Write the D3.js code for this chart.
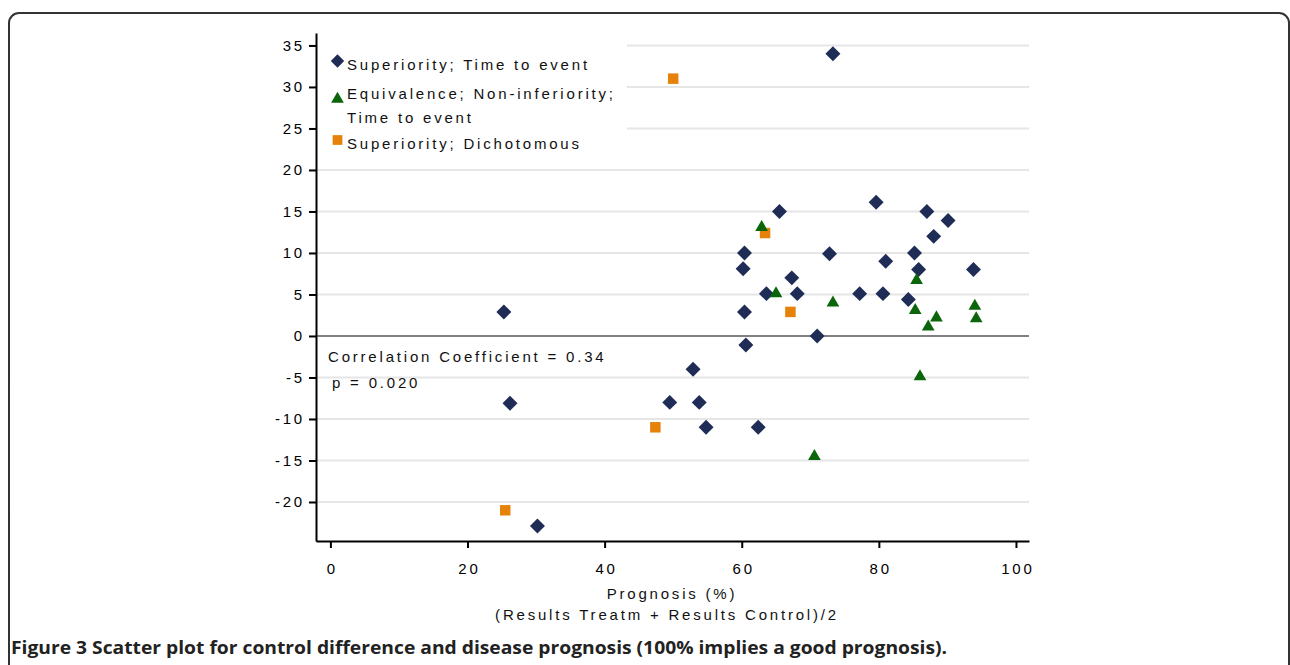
<!DOCTYPE html>
<html>
<head>
<meta charset="utf-8">
<script src="https://cdn.jsdelivr.net/npm/d3@7"></script>
<style>
  body { margin: 0; background: #fff; }
  svg text { font-family: "Liberation Sans", Arimo, Arial, sans-serif; }
</style>
</head>
<body>
<svg></svg>
<script>
//	data: [prognosis %, control difference]
var superiorityTime = [
    [25.3, 2.9], [26.2, -8.1], [30.2, -22.9], [49.5, -8], [52.9, -4], [53.8, -8],
    [54.8, -11], [60.4, 10], [60.2, 8.1], [60.4, 2.9], [60.6, -1.1], [62.4, -11],
    [63.6, 5.1], [65.5, 15], [67.3, 7], [68.1, 5.1], [71.0, 0], [72.8, 9.9],
    [73.3, 34], [77.2, 5.1], [79.6, 16.1], [80.6, 5.1], [81.0, 9.0], [84.3, 4.4],
    [85.2, 10], [85.8, 8], [87.0, 15], [88.0, 12], [90.1, 13.9], [93.8, 8]
];
var equivalenceTime = [
    [62.9, 13.1], [65.0, 5.1], [73.3, 4.0], [85.5, 6.7], [85.3, 3.1], [87.2, 1.1],
    [88.4, 2.2], [94.0, 3.6], [94.2, 2.1], [86.0, -4.9], [70.6, -14.5]
];
var superiorityDich = [
    [63.4, 12.4], [67.1, 2.9], [47.4, -11], [25.5, -21], [50.0, 31]
];
var xTicks = [0, 20, 40, 60, 80, 100];
var yTicks = [-20, -15, -10, -5, 0, 5, 10, 15, 20, 25, 30, 35];
var legendLabels = [
    ["Superiority; Time to event"],
    ["Equivalence; Non-inferiority;", "Time to event"],
    ["Superiority; Dichotomous"]
];
var statLines = ["Correlation Coefficient = 0.34", "p = 0.020"];
var xTitle = ["Prognosis (%)", "(Results Treatm + Results Control)/2"];
var caption = "Figure 3 Scatter plot for control difference and disease prognosis (100% implies a good prognosis).";

var width = 1290, height = 665;
var navy = "#1f2d56", green = "#0b650b", orange = "#e6820a";
var spacing = "2.8px";

var svg = d3.select("svg").attr("width", width).attr("height", height);

//	figure frame
svg.append("rect")
    .attr("x", 9).attr("y", 13)
    .attr("width", 1280).attr("height", 720)
    .attr("rx", 10)
    .attr("fill", "none").attr("stroke", "#333").attr("stroke-width", 2);

//	scales
var x = d3.scaleLinear().domain([-2.1, 101.9]).range([316, 1029]);
var y = d3.scaleLinear().domain([-24.7, 36.5]).range([541, 33]);

//	grid lines
svg.append("g").selectAll("line")
    .data(yTicks.filter(function(d) { return d !== 0; }))
    .enter().append("line")
    .attr("x1", x.range()[0]).attr("x2", x.range()[1])
    .attr("y1", function(d) { return y(d); })
    .attr("y2", function(d) { return y(d); })
    .attr("stroke", "#e6e6e6").attr("stroke-width", 2);

//	legend background hides grid
svg.append("rect")
    .attr("x", 317).attr("y", 38).attr("width", 310).attr("height", 118)
    .attr("fill", "#fff");

//	zero line
svg.append("line")
    .attr("x1", x.range()[0]).attr("x2", x.range()[1])
    .attr("y1", y(0)).attr("y2", y(0))
    .attr("stroke", "#808080").attr("stroke-width", 2);

//	axes (plain hyphen for negatives, like the original)
var fmt = function(d) { return String(d); };
var yAxis = svg.append("g")
    .attr("transform", "translate(" + x.range()[0] + ",0)")
    .call(d3.axisLeft(y).tickValues(yTicks).tickFormat(fmt).tickSize(7).tickPadding(4).tickSizeOuter(0));
var xAxis = svg.append("g")
    .attr("transform", "translate(0," + y.range()[0] + ")")
    .call(d3.axisBottom(x).tickValues(xTicks).tickFormat(fmt).tickSize(7).tickPadding(15).tickSizeOuter(0));

[yAxis, xAxis].forEach(function(a) {
    a.select(".domain").attr("stroke", "#000").attr("stroke-width", 2);
    a.selectAll(".tick line").attr("stroke", "#000").attr("stroke-width", 2);
    a.selectAll(".tick text")
        .attr("font-size", 15).attr("fill", "#000")
        .style("font-family", "'Liberation Sans', Arimo, Arial, sans-serif")
        .style("letter-spacing", spacing);
});
xAxis.selectAll(".tick text").attr("dx", "1.4px");

//	markers
var diamond = d3.symbol().type(d3.symbolSquare).size(112);
var triangle = d3.symbol().type(d3.symbolTriangle).size(70);
var square = d3.symbol().type(d3.symbolSquare).size(110);

svg.append("g").selectAll("path")
    .data(superiorityTime)
    .enter().append("path")
    .attr("d", diamond)
    .attr("transform", function(d) { return "translate(" + x(d[0]) + "," + y(d[1]) + ") rotate(45)"; })
    .attr("fill", navy);

svg.append("g").selectAll("path")
    .data(superiorityDich)
    .enter().append("path")
    .attr("d", square)
    .attr("transform", function(d) { return "translate(" + x(d[0]) + "," + y(d[1]) + ")"; })
    .attr("fill", orange);

svg.append("g").selectAll("path")
    .data(equivalenceTime)
    .enter().append("path")
    .attr("d", triangle)
    .attr("transform", function(d) { return "translate(" + x(d[0]) + "," + y(d[1]) + ")"; })
    .attr("fill", green);

//	legend
var legend = svg.append("g");
var legendMarks = [
    { shape: d3.symbol().type(d3.symbolSquare).size(90)(), rot: 45, fill: navy, y: 61 },
    { shape: d3.symbol().type(d3.symbolTriangle).size(70)(), rot: 0, fill: green, y: 99 },
    { shape: d3.symbol().type(d3.symbolSquare).size(95)(), rot: 0, fill: orange, y: 140 }
];
var legendBase = [70, 98.5, 148.5];
legendMarks.forEach(function(m, i) {
    legend.append("path")
        .attr("d", m.shape)
        .attr("transform", "translate(337.5," + m.y + ") rotate(" + m.rot + ")")
        .attr("fill", m.fill);
    legendLabels[i].forEach(function(t, j) {
        legend.append("text")
            .attr("x", 347).attr("y", legendBase[i] + j * 24)
            .attr("font-size", 15).attr("fill", "#111")
            .style("letter-spacing", spacing)
            .text(t);
    });
});

//	correlation note
svg.append("text").attr("x", 328).attr("y", 362)
    .attr("font-size", 15).attr("fill", "#111").style("letter-spacing", spacing)
    .text(statLines[0]);
svg.append("text").attr("x", 332).attr("y", 388)
    .attr("font-size", 15).attr("fill", "#111").style("letter-spacing", spacing)
    .text(statLines[1]);

//	x title
svg.append("text").attr("x", 672).attr("y", 599)
    .attr("text-anchor", "middle")
    .attr("font-size", 15).attr("fill", "#111").style("letter-spacing", spacing)
    .text(xTitle[0]);
svg.append("text").attr("x", 667).attr("y", 620)
    .attr("text-anchor", "middle")
    .attr("font-size", 15).attr("fill", "#111").style("letter-spacing", spacing)
    .text(xTitle[1]);

//	caption
svg.append("text").attr("x", 11).attr("y", 654)
    .attr("font-size", 18).attr("font-weight", "bold").attr("fill", "#222")
    .attr("textLength", 936).attr("lengthAdjust", "spacingAndGlyphs")
    .style("font-family", "'Open Sans', sans-serif")
    .text(caption);
</script>
</body>
</html>
